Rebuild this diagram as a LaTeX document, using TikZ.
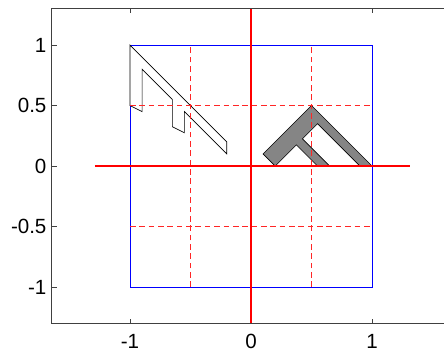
\documentclass[tikz,border=0pt]{standalone}
\usepackage{fontspec}
\setmainfont{Liberation Sans}
\usetikzlibrary{positioning}

\begin{document}
\begin{tikzpicture}[
  x=3cm,y=3cm,
  font=\fontsize{14.5}{17}\selectfont,
  frame/.style={draw=black!75,line width=0.6pt},
  tickmark/.style={draw=black!75,line width=0.5pt},
  ticklbl/.style={inner sep=0pt},
  unitsq/.style={draw=blue,line width=0.5pt},
  gridline/.style={draw=red!85,dash pattern=on 4pt off 2.6pt,line width=0.6pt},
  axisline/.style={draw=red,line width=1.4pt},
  origshape/.style={draw=black,fill=white,line width=0.45pt},
  mappedshape/.style={draw=black,fill=black!48,line width=0.45pt},
]
\useasboundingbox (-2.074,-1.570) rectangle (1.595,1.372);
\clip (-2.074,-1.570) rectangle (1.595,1.372);

% axes box and ticks
\draw[frame] (-1.645,-1.3) rectangle (1.635,1.3);
\foreach \v/\n in {-1/m1,0/z,1/p1} {
  \draw[tickmark] (\v,-1.3) -- (\v,-1.265);
  \draw[tickmark] (\v,1.3) -- (\v,1.265);
  \node[ticklbl,anchor=north] (xl\n) at (\v,-1.385) {\v};
}
\foreach \v/\n in {-1/m1,-0.5/m05,0/z,0.5/p05,1/p1} {
  \draw[tickmark] (-1.645,\v) -- (-1.605,\v);
  \draw[tickmark,black!25] (1.635,\v) -- (1.595,\v);
  \node[ticklbl,anchor=east] (yl\n) at (-1.688,\v) {\v};
}

% unit square
\draw[unitsq] (-1,-1) rectangle (1,1);

% original shape (sheared) and its image
\draw[origshape] (-1,1) -- (-1,0.5) -- (-0.9,0.45) -- (-0.9,0.8) -- (-0.65,0.55)
  -- (-0.65,0.325) -- (-0.55,0.275) -- (-0.55,0.45) -- (-0.2,0.1) -- (-0.2,0.2) -- cycle;
\draw[mappedshape] (0.5,0.5) -- (1,0) -- (0.9,0) -- (0.55,0.35) -- (0.425,0.225)
  -- (0.65,0) -- (0.55,0) -- (0.375,0.175) -- (0.2,0) -- (0.1,0.1) -- cycle;

% dashed grid
\foreach \v in {-0.5,0.5} {
  \draw[gridline] (\v,-1) -- (\v,1);
  \draw[gridline] (-1,\v) -- (1,\v);
}

% coordinate axes
\draw[axisline] (-1.29,0) -- (1.31,0);
\draw[axisline] (0,-1.3) -- (0,1.3);
\end{tikzpicture}
\end{document}
